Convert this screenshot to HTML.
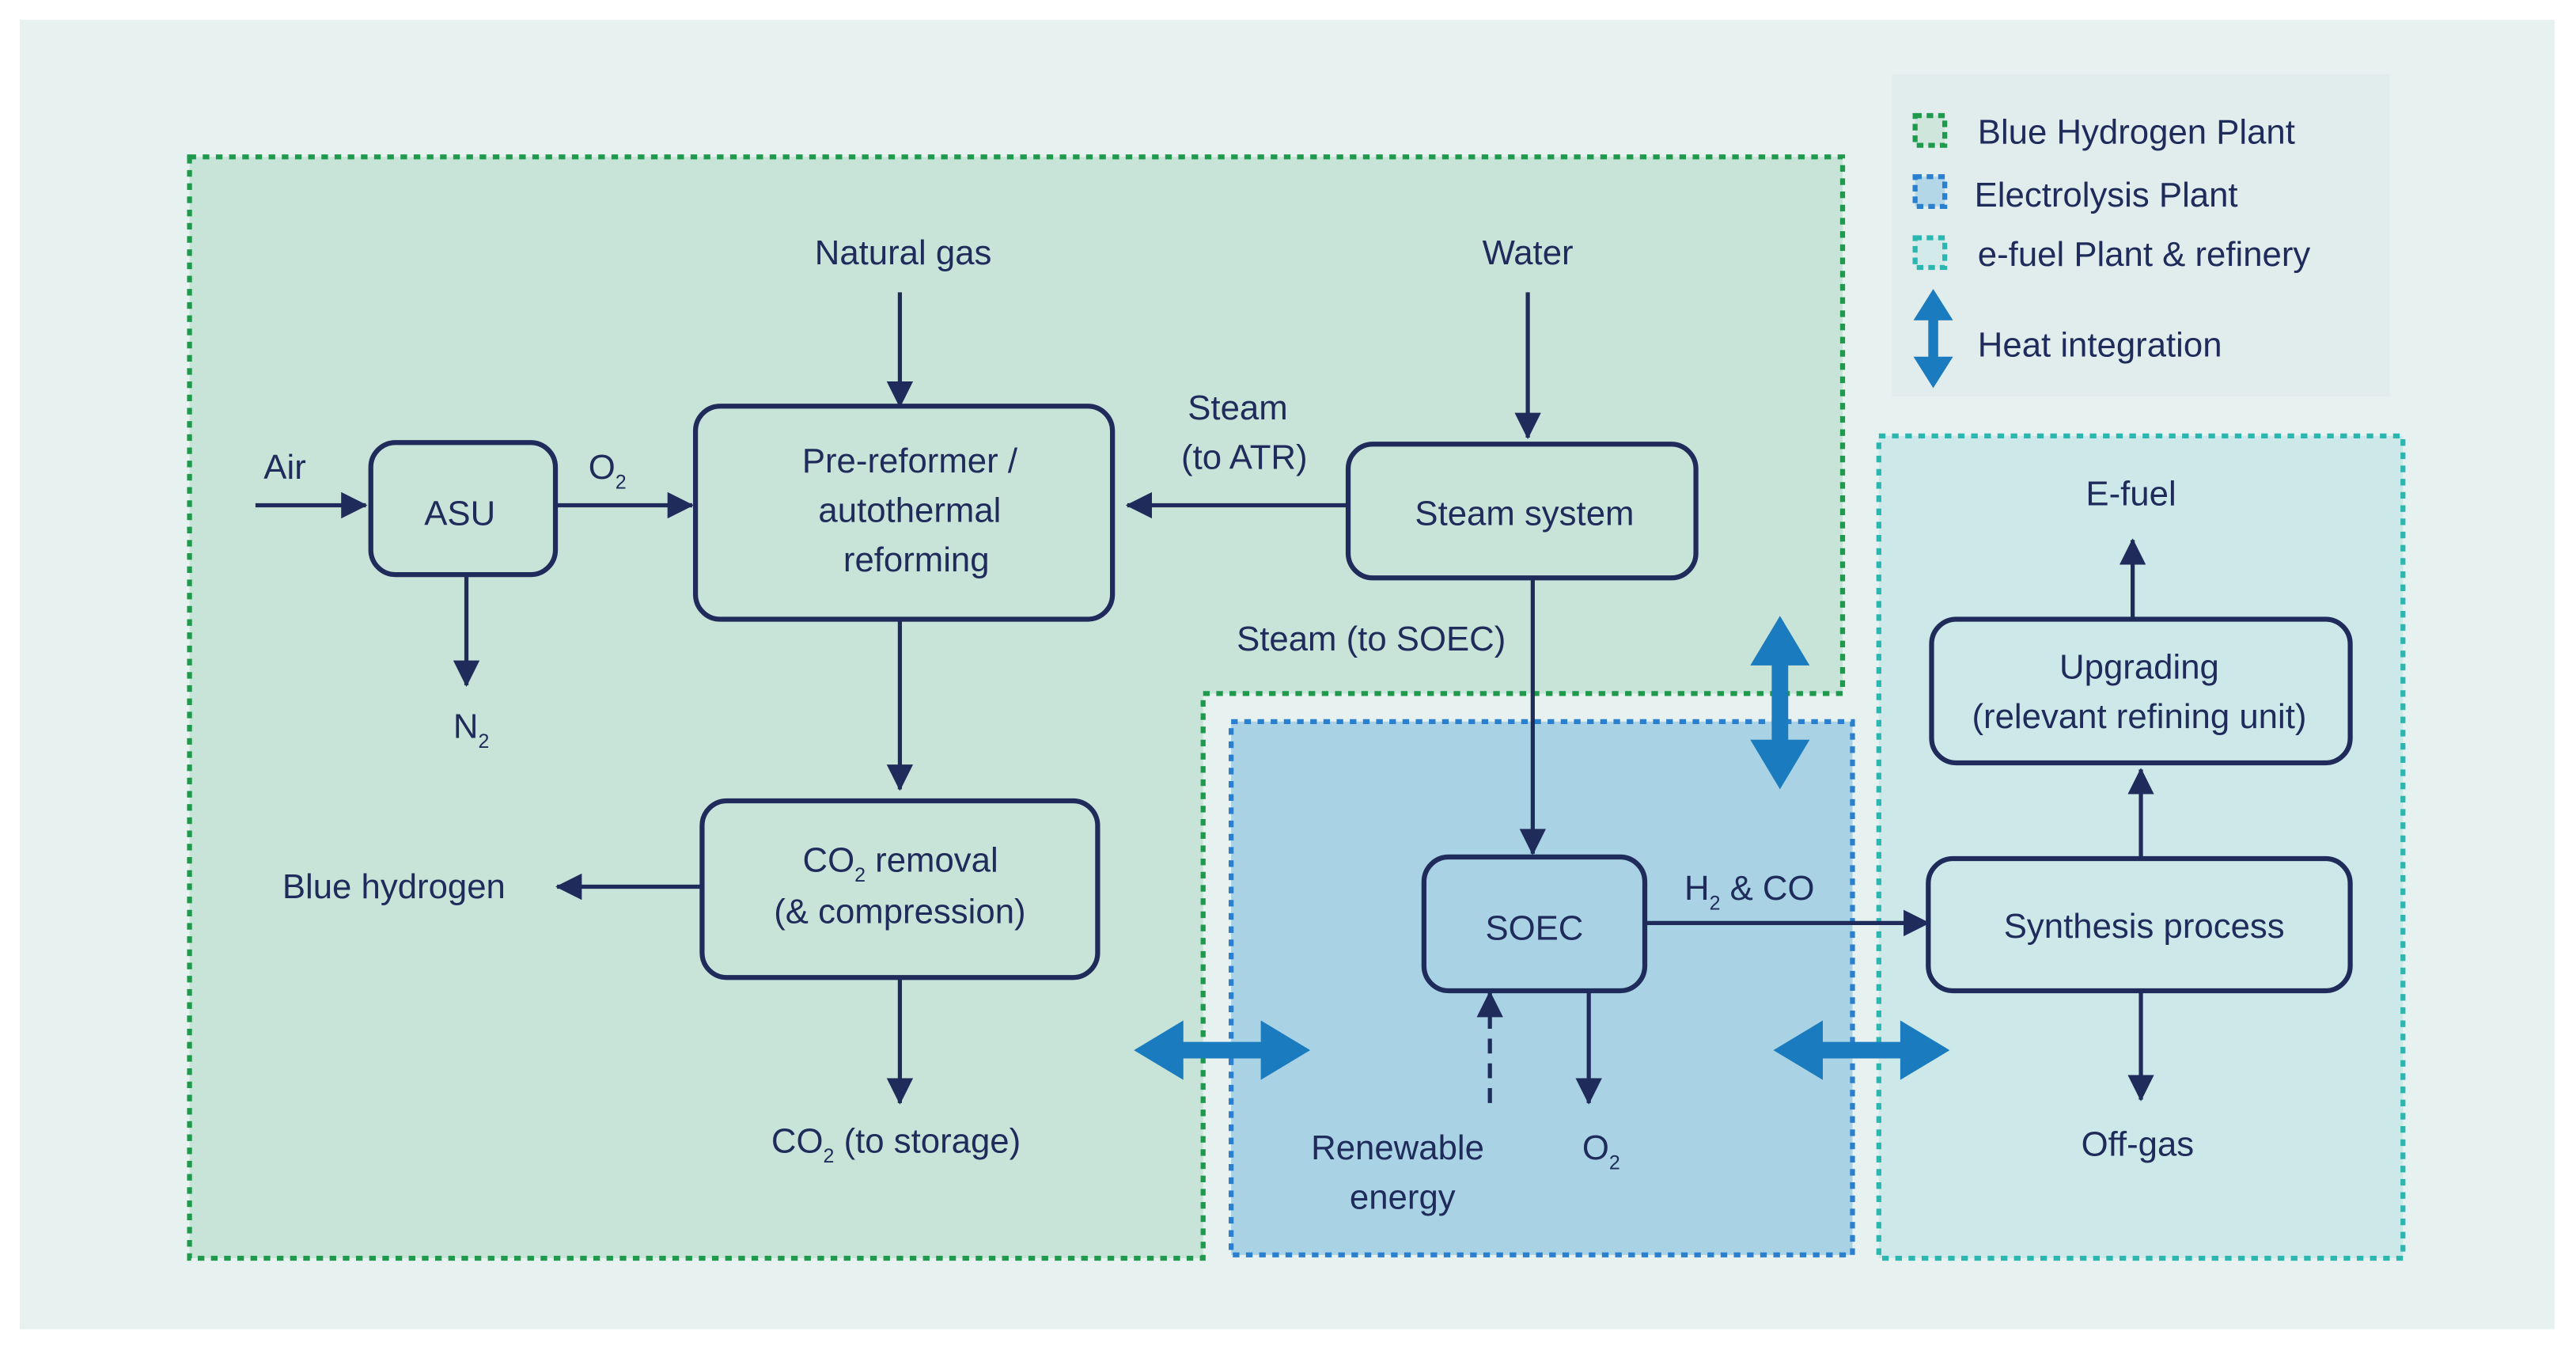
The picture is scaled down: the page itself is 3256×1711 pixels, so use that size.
<!DOCTYPE html>
<html><head><meta charset="utf-8"><style>
html,body{margin:0;padding:0;background:#fff;}
svg{display:block;}
text{font-family:"Liberation Sans",sans-serif;fill:#1f2b5a;font-size:21px;}
</style></head><body>
<svg width="3256" height="1711" viewBox="0 0 1563 820" preserveAspectRatio="none" xmlns="http://www.w3.org/2000/svg">
<defs>
<marker id="ah" markerWidth="10" markerHeight="10" refX="9" refY="5" orient="auto" markerUnits="userSpaceOnUse"><path d="M0,0 L10,5 L0,10 z" fill="#1f2b5a"/></marker>
<marker id="ah2" markerWidth="16" markerHeight="16" refX="15" refY="8" orient="auto" markerUnits="userSpaceOnUse"><path d="M0,0 L16,8 L0,16 z" fill="#1f2b5a"/></marker>
</defs>
<rect x="0" y="0" width="1563" height="820" fill="#ffffff"/>
<rect x="12" y="12" width="1538" height="793" fill="#e6f1f0"/>
<rect x="1148" y="45" width="302" height="195" fill="#e1eded"/>
<!-- green region -->
<path d="M115,95 H1118 V420 H730 V762 H115 Z" fill="#c8e3d8" stroke="#1f9a4c" stroke-width="3" stroke-dasharray="4,4"/>
<!-- blue -->
<rect x="747" y="437" width="377" height="323" fill="#a9d2e4" stroke="#2a7fcf" stroke-width="3" stroke-dasharray="4,4"/>
<!-- teal -->
<rect x="1140" y="264" width="318" height="498" fill="#cce8e8" stroke="#2bb6b0" stroke-width="3" stroke-dasharray="4,4"/>
<!-- legend -->
<rect x="1162" y="70" width="18" height="18" fill="#cfe6dc" stroke="#1f9a4c" stroke-width="3" stroke-dasharray="4,3"/>
<rect x="1162" y="107" width="18" height="18" fill="#b3d7e6" stroke="#2a7fcf" stroke-width="3" stroke-dasharray="4,3"/>
<rect x="1162" y="144" width="18" height="18" fill="#d3eaea" stroke="#2bb6b0" stroke-width="3" stroke-dasharray="4,3"/>
<text x="1200" y="87">Blue Hydrogen Plant</text>
<text x="1198" y="125">Electrolysis Plant</text>
<text x="1200" y="161">e-fuel Plant &amp; refinery</text>
<text x="1200" y="216">Heat integration</text>
<path d="M1173,175 L1185,194 L1176,194 L1176,216 L1185,216 L1173,235 L1161,216 L1170,216 L1170,194 L1161,194 Z" fill="#1a7bbf"/>
<!-- heat arrows -->
<path d="M1080,373 L1098,403 L1085,403 L1085,448 L1098,448 L1080,478 L1062,448 L1075,448 L1075,403 L1062,403 Z" fill="#1a7bbf"/>
<path d="M688,636 L718,618 L718,631 L765,631 L765,618 L795,636 L765,654 L765,641 L718,641 L718,654 Z" fill="#1a7bbf"/>
<path d="M1076,636 L1106,618 L1106,631 L1153,631 L1153,618 L1183,636 L1153,654 L1153,641 L1106,641 L1106,654 Z" fill="#1a7bbf"/>
<!-- boxes -->
<g fill="none" stroke="#1f2b5a" stroke-width="3">
<rect x="225" y="268" width="112" height="80" rx="15"/>
<rect x="422" y="246" width="253" height="129" rx="15"/>
<rect x="818" y="269" width="211" height="81" rx="15"/>
<rect x="426" y="485" width="240" height="107" rx="15"/>
<rect x="864" y="519" width="134" height="81" rx="15"/>
<rect x="1172" y="375" width="254" height="87" rx="15"/>
<rect x="1170" y="520" width="256" height="80" rx="15"/>
</g>
<!-- arrows -->
<g stroke="#1f2b5a" stroke-width="2.5" fill="none">
<line x1="155" y1="306" x2="222" y2="306" marker-end="url(#ah2)"/>
<line x1="337" y1="306" x2="420" y2="306" marker-end="url(#ah2)"/>
<line x1="546" y1="177" x2="546" y2="246" marker-end="url(#ah2)"/>
<line x1="927" y1="177" x2="927" y2="265" marker-end="url(#ah2)"/>
<line x1="818" y1="306" x2="684" y2="306" marker-end="url(#ah2)"/>
<line x1="283" y1="348" x2="283" y2="415" marker-end="url(#ah2)"/>
<line x1="546" y1="375" x2="546" y2="478" marker-end="url(#ah2)"/>
<line x1="426" y1="537" x2="338" y2="537" marker-end="url(#ah2)"/>
<line x1="546" y1="592" x2="546" y2="668" marker-end="url(#ah2)"/>
<line x1="930" y1="350" x2="930" y2="517" marker-end="url(#ah2)"/>
<line x1="998" y1="559" x2="1170" y2="559" marker-end="url(#ah2)"/>
<line x1="964" y1="600" x2="964" y2="668" marker-end="url(#ah2)"/>
<line x1="904" y1="668" x2="904" y2="601" stroke-dasharray="9,6" marker-end="url(#ah2)"/>
<line x1="1299" y1="520" x2="1299" y2="466" marker-end="url(#ah2)"/>
<line x1="1294" y1="375" x2="1294" y2="327" marker-end="url(#ah2)"/>
<line x1="1299" y1="600" x2="1299" y2="666" marker-end="url(#ah2)"/>
</g>
<!-- labels -->
<text x="548" y="160" text-anchor="middle">Natural gas</text>
<text x="927" y="160" text-anchor="middle">Water</text>
<text x="160" y="290">Air</text>
<text x="357" y="290">O<tspan font-size="12" dy="6">2</tspan></text>
<text x="279" y="318" text-anchor="middle">ASU</text>
<text x="552" y="286" text-anchor="middle">Pre-reformer /</text>
<text x="552" y="316" text-anchor="middle">autothermal</text>
<text x="556" y="346" text-anchor="middle">reforming</text>
<text x="751" y="254" text-anchor="middle">Steam</text>
<text x="755" y="284" text-anchor="middle">(to ATR)</text>
<text x="925" y="318" text-anchor="middle">Steam system</text>
<text x="832" y="394" text-anchor="middle">Steam (to SOEC)</text>
<text x="275" y="447">N<tspan font-size="12" dy="6">2</tspan></text>
<text x="239" y="544" text-anchor="middle">Blue hydrogen</text>
<text x="487" y="528">CO<tspan font-size="12" dy="6">2</tspan><tspan dy="-6"> removal</tspan></text>
<text x="546" y="559" text-anchor="middle">(&amp; compression)</text>
<text x="468" y="698">CO<tspan font-size="12" dy="6">2</tspan><tspan dy="-6"> (to storage)</tspan></text>
<text x="931" y="569" text-anchor="middle">SOEC</text>
<text x="1022" y="545">H<tspan font-size="12" dy="6">2</tspan><tspan dy="-6"> &amp; CO</tspan></text>
<text x="848" y="702" text-anchor="middle">Renewable</text>
<text x="851" y="732" text-anchor="middle">energy</text>
<text x="960" y="702">O<tspan font-size="12" dy="6">2</tspan></text>
<text x="1293" y="306" text-anchor="middle">E-fuel</text>
<text x="1298" y="411" text-anchor="middle">Upgrading</text>
<text x="1298" y="441" text-anchor="middle">(relevant refining unit)</text>
<text x="1301" y="568" text-anchor="middle">Synthesis process</text>
<text x="1297" y="700" text-anchor="middle">Off-gas</text>
</svg>
</body></html>
